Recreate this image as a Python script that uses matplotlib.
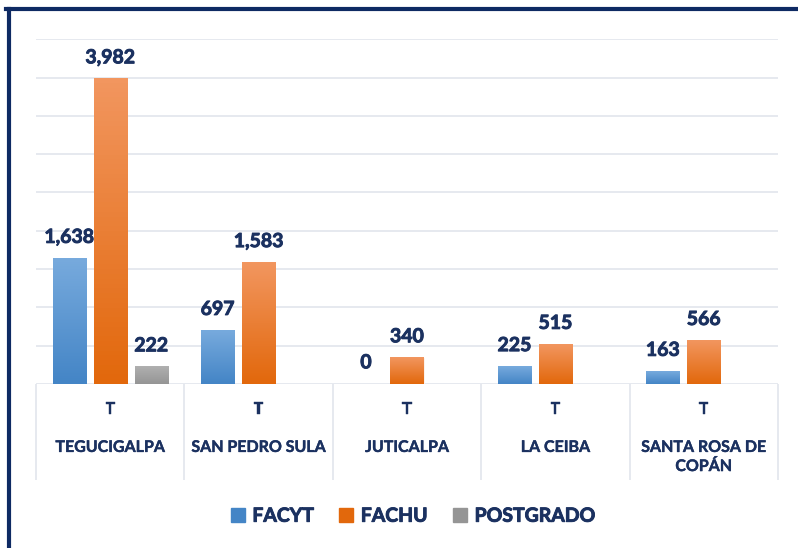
import numpy as np
import matplotlib.pyplot as plt
import matplotlib.patheffects as pe
from matplotlib.colors import LinearSegmentedColormap
from matplotlib.lines import Line2D

# Datos
sedes = ['TEGUCIGALPA', 'SAN PEDRO SULA', 'JUTICALPA', 'LA CEIBA', 'SANTA ROSA DE\nCOPÁN']
facyt = [1638, 697, 0, 225, 163]
fachu = [3982, 1583, 340, 515, 566]
postgrado = [222, None, None, None, None]
series = ['FACYT', 'FACHU', 'POSTGRADO']

navy = '#1B3160'
grid_col = '#E1E5EC'
# colores (arriba, abajo) para el degradado
colores = [('#77AADD', '#4485C6'), ('#F2965F', '#E2680C'), ('#B0B0B0', '#959595')]

plt.rcParams['font.family'] = ['Lato', 'DejaVu Sans']
grueso = [pe.withStroke(linewidth=0.65, foreground=navy)]
medio = [pe.withStroke(linewidth=0.3, foreground=navy)]

fig = plt.figure(figsize=(7.98, 5.48), dpi=100)
ax = fig.add_axes([0.0451, 0.2993, 0.9298, 0.629])

x = np.arange(len(sedes))
ancho = 0.223
paso = 0.276
datos = [facyt, fachu, postgrado]

for i, (vals, nombre) in enumerate(zip(datos, series)):
    pos = x + (i - 1) * paso
    for xp, v in zip(pos, vals):
        if v is None:
            continue
        ax.bar(xp, v, width=ancho, color=colores[i][1], edgecolor='white',
               linewidth=0.6, zorder=3)
        # degradado vertical dentro de la barra
        cmap = LinearSegmentedColormap.from_list('g', [colores[i][1], colores[i][0]])
        grad = np.linspace(0, 1, 64).reshape(-1, 1)
        if v > 0:
            ax.imshow(grad, cmap=cmap, origin='lower', aspect='auto', zorder=3.5,
                      extent=[xp - ancho / 2, xp + ancho / 2, 0, v])
        ax.text(xp, v + 165, f'{v:,}', ha='center', va='bottom', fontsize=14,
                fontweight='bold', color=navy, zorder=5, path_effects=grueso)

ax.set_xlim(-0.5, len(sedes) - 0.5)
ax.set_ylim(0, 4500)
ax.set_yticks(np.arange(0, 4501, 500))
ax.yaxis.grid(True, color=grid_col, linewidth=1.2, zorder=0)
ax.tick_params(axis='y', left=False, labelleft=False)
for s in ax.spines.values():
    s.set_visible(False)

# etiquetas del eje x
ax.set_xticks(x)
ax.set_xticklabels(sedes, fontsize=11.5, fontweight='bold', color=navy,
                   va='top', linespacing=1.4, path_effects=medio)
ax.tick_params(axis='x', length=0, pad=41)
for xi in x:
    ax.text(xi, -0.075, 'T', transform=ax.get_xaxis_transform(), ha='center',
            va='center', fontsize=11.5, fontweight='bold', color=navy, path_effects=medio)

# separadores de categorías
ax.vlines(np.arange(len(sedes) + 1) - 0.5, -0.28, 0, transform=ax.get_xaxis_transform(),
          colors=grid_col, linewidth=1.2, clip_on=False)

# leyenda
handles = [Line2D([], [], marker='s', linestyle='', markersize=10,
                  markerfacecolor=c[1], markeredgecolor=c[1]) for c in colores]
leg = fig.legend(handles, series, loc='center', bbox_to_anchor=(0.515, 0.058), ncol=3,
                 frameon=False, handletextpad=0.15, columnspacing=1.05, handlelength=1.2,
                 prop={'size': 14, 'weight': 'bold'})
for t in leg.get_texts():
    t.set_color(navy)
    t.set_path_effects(grueso)

# marco
fig.add_artist(Line2D([0.0107, 0.0107], [0, 0.984], color='#0E2A63', linewidth=3))
fig.add_artist(Line2D([0.008, 1.0], [0.984, 0.984], color='#0E2A63', linewidth=3))

fig.savefig('out.png', dpi=100)
